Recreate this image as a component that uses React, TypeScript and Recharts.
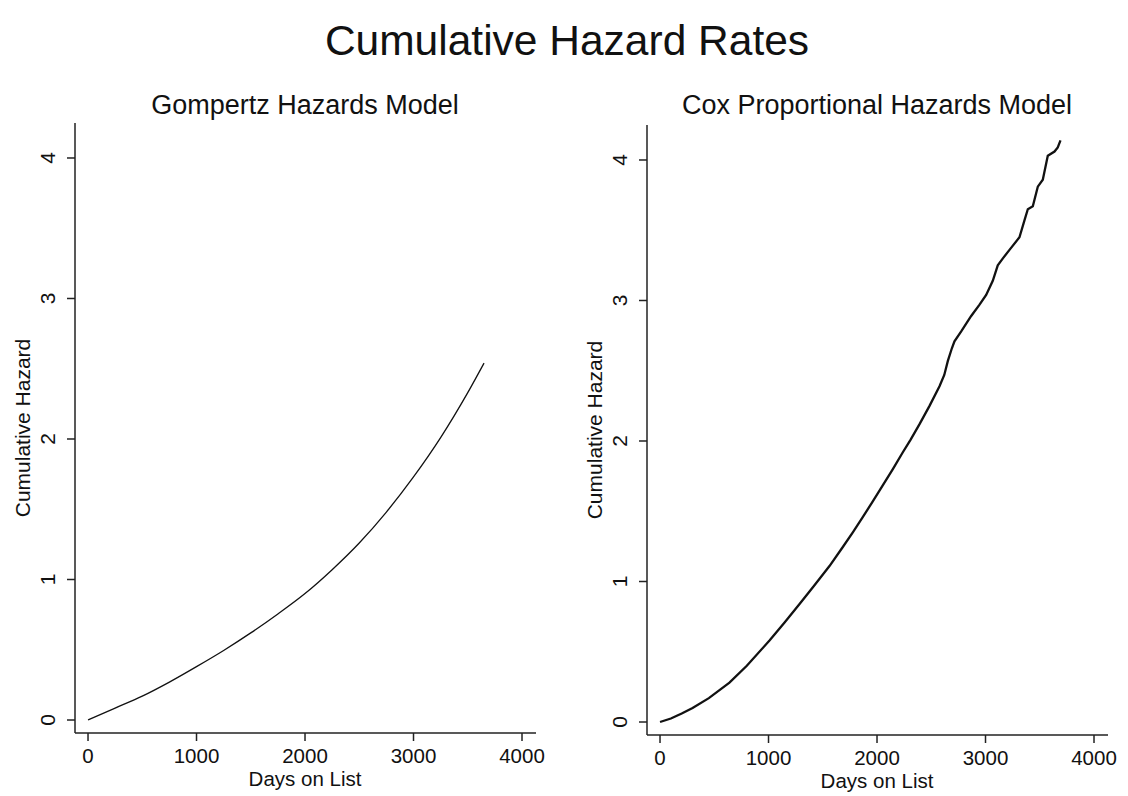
import React from "react";
import { LineChart, Line, XAxis, YAxis } from "recharts";

// Gompertz cumulative hazard
const gompertzDays = [0, 250, 500, 750, 1000, 1250, 1500, 1750, 2000, 2250, 2500, 2750, 3000, 3250, 3500, 3650];
const gompertzHazard = [0, 0.085, 0.17, 0.27, 0.38, 0.495, 0.62, 0.755, 0.9, 1.07, 1.26, 1.48, 1.73, 2.01, 2.33, 2.54];

// Cox (Breslow) cumulative hazard
const coxDays = [
  0, 100, 200, 300, 450, 640, 800, 1009, 1150, 1286, 1420, 1562, 1680, 1777, 1870, 1961, 2050, 2146, 2238, 2310,
  2392, 2484, 2576, 2620, 2653, 2690, 2714, 2776, 2868, 2945, 3006, 3067, 3113, 3160, 3221, 3313, 3359, 3390, 3436,
  3482, 3528, 3574, 3636, 3666, 3691,
];
const coxHazard = [
  0, 0.025, 0.06, 0.1, 0.17, 0.28, 0.4, 0.58, 0.71, 0.84, 0.97, 1.11, 1.24, 1.35, 1.46, 1.57, 1.68, 1.8, 1.92, 2.01,
  2.12, 2.25, 2.39, 2.47, 2.57, 2.66, 2.71, 2.78, 2.89, 2.97, 3.04, 3.14, 3.25, 3.3, 3.36, 3.45, 3.57, 3.65, 3.67,
  3.81, 3.86, 4.03, 4.06, 4.09, 4.14,
];

const xTicks = [0, 1000, 2000, 3000, 4000];
const yTicks = [0, 1, 2, 3, 4];

const mainTitle = "Cumulative Hazard Rates";
const leftTitle = "Gompertz Hazards Model";
const rightTitle = "Cox Proportional Hazards Model";
const xLabel = "Days on List";
const yLabel = "Cumulative Hazard";

const FONT = "'Liberation Sans', Arial, Helvetica, sans-serif";

const gompertzData = gompertzDays.map((d, i) => ({ day: d, hazard: gompertzHazard[i] }));
const coxData = coxDays.map((d, i) => ({ day: d, hazard: coxHazard[i] }));

const XTick = (props: any) => {
  const { x, y, payload } = props;
  return (
    <text x={x} y={y + 22} textAnchor="middle" fontFamily={FONT} fontSize={20.5} fill="#111">
      {payload.value}
    </text>
  );
};

const YTick = (props: any) => {
  const { x, y, payload } = props;
  const bx = x - 12;
  return (
    <text x={bx} y={y} transform={`rotate(-90 ${bx} ${y})`} textAnchor="middle" fontFamily={FONT} fontSize={21} fill="#111">
      {payload.value}
    </text>
  );
};

type PanelProps = {
  data: { day: number; hazard: number }[];
  left: number;
  top: number;
  strokeWidth: number;
  curve: "monotone" | "linear";
};

function Panel({ data, left, top, strokeWidth, curve }: PanelProps) {
  // plot area: 461 x 610 px, placed at (left, top)
  return (
    <div style={{ position: "absolute", left: 0, top: 0 }}>
      <LineChart
        width={left + 461 + 30}
        height={796}
        data={data}
        margin={{ top: top, left: left - 60, right: 30, bottom: 796 - top - 610 - 30 }}
      >
        <XAxis
          dataKey="day"
          type="number"
          domain={[-120, 4129]}
          ticks={xTicks}
          allowDataOverflow
          tickSize={8}
          tickMargin={0}
          height={30}
          stroke="#222"
          strokeWidth={1.5}
          tick={<XTick />}
          interval={0}
        />
        <YAxis
          type="number"
          domain={[-0.0925, 4.249]}
          ticks={yTicks}
          allowDataOverflow
          tickSize={8}
          tickMargin={0}
          width={60}
          stroke="#222"
          strokeWidth={1.5}
          tick={<YTick />}
          interval={0}
        />
        <Line
          type={curve}
          dataKey="hazard"
          stroke="#111"
          strokeWidth={strokeWidth}
          dot={false}
          isAnimationActive={false}
        />
      </LineChart>
    </div>
  );
}

export default function App() {
  return (
    <div style={{ position: "absolute", left: 0, top: 0, width: 1128, height: 796, background: "#fff", overflow: "hidden" }}>
      <Panel data={gompertzData} left={75} top={123} strokeWidth={1.3} curve="monotone" />
      <div style={{ position: "absolute", left: 572, top: 0 }}>
        <Panel data={coxData} left={75} top={125} strokeWidth={2.3} curve="linear" />
      </div>
      <svg width={1128} height={796} style={{ position: "absolute", left: 0, top: 0, pointerEvents: "none" }}>
        <text x={567} y={55} textAnchor="middle" fontFamily={FONT} fontSize={42.5} fill="#111">
          {mainTitle}
        </text>
        <text x={305} y={114} textAnchor="middle" fontFamily={FONT} fontSize={27} fill="#111">
          {leftTitle}
        </text>
        <text x={877} y={114} textAnchor="middle" fontFamily={FONT} fontSize={27} fill="#111">
          {rightTitle}
        </text>
        <text x={305} y={786} textAnchor="middle" fontFamily={FONT} fontSize={20.5} fill="#111">
          {xLabel}
        </text>
        <text x={877} y={788} textAnchor="middle" fontFamily={FONT} fontSize={20.5} fill="#111">
          {xLabel}
        </text>
        <text x={30} y={428} transform="rotate(-90 30 428)" textAnchor="middle" fontFamily={FONT} fontSize={21} fill="#111">
          {yLabel}
        </text>
        <text x={602} y={430} transform="rotate(-90 602 430)" textAnchor="middle" fontFamily={FONT} fontSize={21} fill="#111">
          {yLabel}
        </text>
      </svg>
    </div>
  );
}
